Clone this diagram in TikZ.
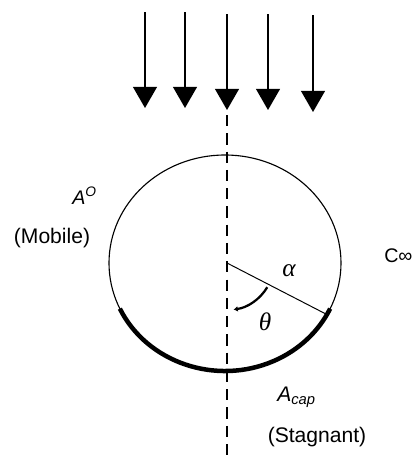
\documentclass[tikz,border=0pt]{standalone}
\usepackage{fontspec}
\setmainfont{Liberation Sans}
\newfontfamily\greekfont{Liberation Serif}
\usetikzlibrary{arrows.meta,calc,positioning}

\begin{document}
\begin{tikzpicture}[x=0.025cm,y=-0.025cm,>={Triangle[width=17pt,length=15pt]},
  flow/.style={->,line width=1pt},
  axisline/.style={line width=1pt,dash pattern=on 8pt off 5pt},
  label/.style={font=\fontsize{15}{18}\selectfont,inner sep=0pt},
  greek/.style={font=\fontsize{18}{20}\selectfont\greekfont\itshape,inner sep=0pt}]
  \useasboundingbox (0,0) rectangle (415,461);
  \coordinate (C) at (225,263);
  \coordinate (O) at (227,263);
  % 流れ
  \foreach \x/\t/\b in {145/12/108,185/12/108,227/14/110,268/14/110,313/15/112}
    \draw[flow] (\x,\t) coordinate (top\x) -- (\x,\b) coordinate (tip\x);
  % 対称軸
  \coordinate (axtop) at (227,115);
  \coordinate (axbot) at (227,461);
  \draw[axisline] (axtop) -- (axbot);
  % 気泡
  \draw[line width=0.8pt] (C) ellipse [x radius=116,y radius=108];
  \draw[line width=3.2pt] ($(C)+(155:116 and 108)$) arc[start angle=155,end angle=25,x radius=116,y radius=108];
  % 半径と角度
  \draw[line width=0.7pt] (O) -- ($(C)+(28.5:116 and 108)$) coordinate (R);
  \draw[line width=1.6pt,-{Latex[length=3pt,width=4pt]}] ($(O)+(31:47)$) arc[start angle=31,end angle=82,radius=47];
  % 注記
  \node[font=\fontsize{14}{16}\selectfont,inner sep=0pt,anchor=base west] (aO) at (72,204) {\textit{A}\textsuperscript{\textit{O}}};
  \node[label] (mob) at (52,238) {(Mobile)};
  \node[font=\fontsize{14}{16}\selectfont,inner sep=0pt,anchor=base west] (cinf) at (384,262) {C∞};
  \node[greek] (alpha) at (289,271) {α};
  \node[greek] (theta) at (265,322) {θ};
  \node[label,anchor=base west] (acap) at (277,401) {\textit{A}\textsubscript{\textit{cap}}};
  \node[label] (stag) at (317,437) {(Stagnant)};
\end{tikzpicture}
\end{document}
